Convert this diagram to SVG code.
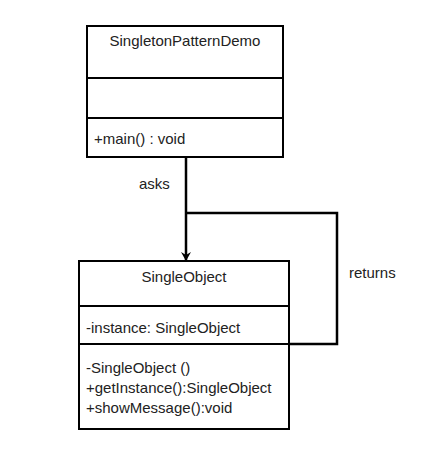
<svg xmlns="http://www.w3.org/2000/svg" width="428" height="456" viewBox="0 0 428 456">
<style>
.box{fill:#fff;stroke:#000;stroke-width:2}
.t{font-family:"Liberation Sans",Arial,sans-serif;font-size:15px;fill:#222}
.c{text-anchor:middle}
.ln{fill:none;stroke:#000;stroke-width:2.5}
</style>
<defs>
<marker id="ah" markerWidth="10" markerHeight="10" refX="8" refY="5" orient="auto" markerUnits="userSpaceOnUse">
<path d="M0,0 L9,5 L0,10 L3,5 Z" fill="#000"/>
</marker>
</defs>
<rect width="428" height="456" fill="#fff"/>
<g id="connectors">
<path class="ln" d="M186,157 V260" marker-end="url(#ah)"/>
<path class="ln" d="M186,213 H337 V344 H289"/>
<text class="t" x="139" y="189">asks</text>
<text class="t" x="349" y="278">returns</text>
</g>
<g id="SingletonPatternDemo">
<rect class="box" x="87" y="26" width="196" height="131"/>
<line class="box" x1="87" y1="78" x2="283" y2="78"/>
<line class="box" x1="87" y1="118" x2="283" y2="118"/>
<text class="t c" x="185" y="46">SingletonPatternDemo</text>
<text class="t" x="94" y="144">+main() : void</text>
</g>
<g id="SingleObject">
<rect class="box" x="79" y="261" width="210" height="168"/>
<line class="box" x1="79" y1="306" x2="289" y2="306"/>
<line class="box" x1="79" y1="344" x2="289" y2="344"/>
<text class="t c" x="184" y="282">SingleObject</text>
<text class="t" x="86" y="333">-instance: SingleObject</text>
<text class="t" x="86" y="373">-SingleObject ()</text>
<text class="t" x="86" y="393">+getInstance():SingleObject</text>
<text class="t" x="86" y="413">+showMessage():void</text>
</g>
</svg>
